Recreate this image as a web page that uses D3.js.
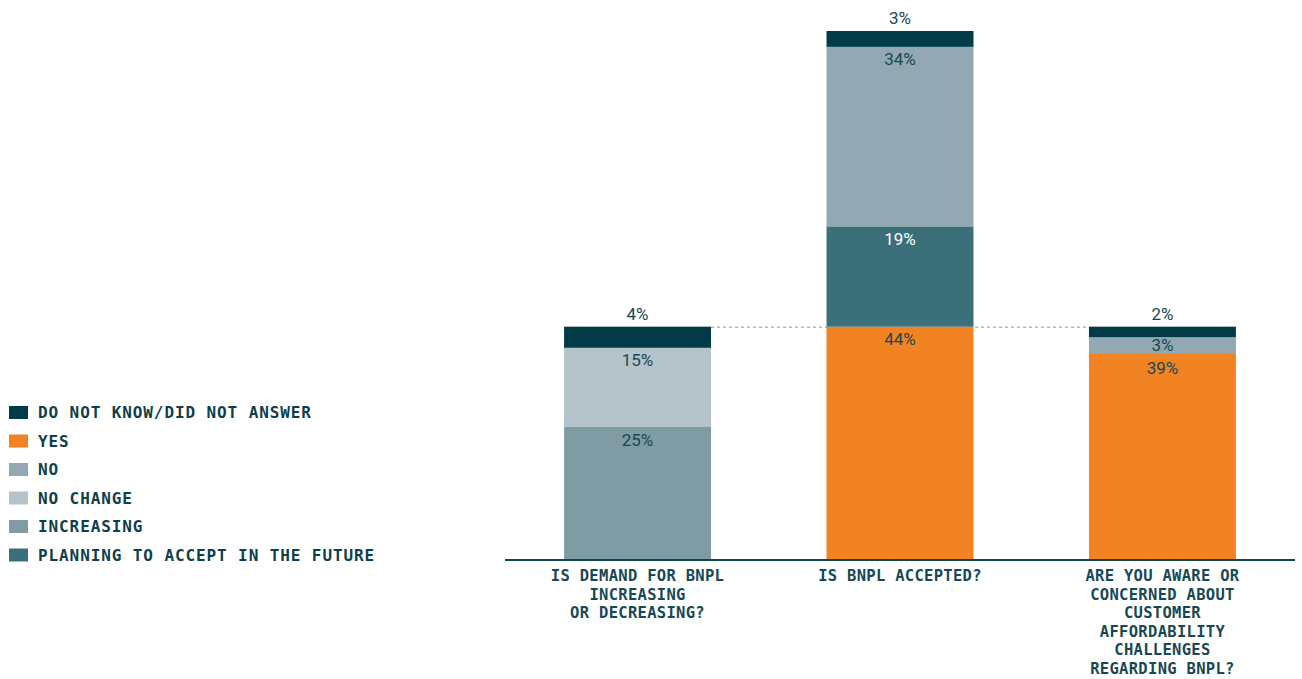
<!DOCTYPE html>
<html>
<head>
<meta charset="utf-8">
<script src="https://cdn.jsdelivr.net/npm/d3@7"></script>
<style>
  html, body { margin: 0; padding: 0; background: #ffffff; }
  svg { display: block; }
</style>
</head>
<body>
<svg id="chart" width="1302" height="679"></svg>
<script>
// Survey questions (x categories)
const questions = [
  ["IS DEMAND FOR BNPL", "INCREASING", "OR DECREASING?"],
  ["IS BNPL ACCEPTED?"],
  ["ARE YOU AWARE OR", "CONCERNED ABOUT", "CUSTOMER", "AFFORDABILITY", "CHALLENGES", "REGARDING BNPL?"]
];

// Answer series, stacked bottom to top
const seriesKeys = ["increasing", "noChange", "yes", "planning", "no", "dontKnow"];

// Values per question, in percent
const increasing = [25, 0, 0];
const noChange   = [15, 0, 0];
const yes        = [0, 44, 39];
const planning   = [0, 19, 0];
const no         = [0, 34, 3];
const dontKnow   = [4, 3, 2];

// Legend entries, top to bottom
const legendKeys   = ["dontKnow", "yes", "no", "noChange", "increasing", "planning"];
const legendLabels = ["DO NOT KNOW/DID NOT ANSWER", "YES", "NO", "NO CHANGE", "INCREASING", "PLANNING TO ACCEPT IN THE FUTURE"];

const colors = {
  dontKnow:   "#003b47",
  yes:        "#f28322",
  no:         "#93a8b2",
  noChange:   "#b5c3cb",
  increasing: "#7f9ba3",
  planning:   "#3b707b"
};
const labelColor = { planning: "#ffffff" };

const values = { increasing, noChange, yes, planning, no, dontKnow };
const rows = questions.map((q, i) => {
  const r = { idx: i };
  seriesKeys.forEach(k => r[k] = values[k][i]);
  return r;
});

const svg = d3.select("#chart");
const textDark = "#174854";

const x = d3.scaleBand()
  .domain(d3.range(questions.length))
  .range([505, 1295])
  .paddingInner(0.44)
  .paddingOuter(0.225);

const y = d3.scaleLinear().domain([0, 100]).range([559, 31]);

const stacked = d3.stack().keys(seriesKeys)(rows);

// Dotted reference line at the top of the first bar
const refTotal = d3.sum(seriesKeys, k => rows[0][k]);
svg.append("line")
  .attr("x1", x(0) + x.bandwidth())
  .attr("x2", x(2))
  .attr("y1", y(refTotal) + 0.5)
  .attr("y2", y(refTotal) + 0.5)
  .attr("stroke", "#7f99a2")
  .attr("stroke-width", 1)
  .attr("stroke-dasharray", "3,3");

// Bars
const layers = svg.append("g").selectAll("g")
  .data(stacked)
  .join("g")
  .attr("fill", d => colors[d.key]);

layers.selectAll("rect")
  .data(d => d.filter(s => s[1] - s[0] > 0))
  .join("rect")
  .attr("x", d => x(d.data.idx))
  .attr("width", x.bandwidth())
  .attr("y", d => y(d[1]))
  .attr("height", d => y(d[0]) - y(d[1]));

// Value labels: top segment labelled above the bar, the others just
// inside their segment's top edge, pushed down so they never collide.
const labels = [];
rows.forEach(r => {
  let prevBaseline = -Infinity;
  stacked.slice().reverse().forEach(layer => {
    const s = layer[r.idx];
    const v = s[1] - s[0];
    if (v <= 0) return;
    const top = y(s[1]), bottom = y(s[0]);
    let base;
    if (layer.key === "dontKnow") {
      base = top - 7;
    } else if (bottom - top < 20) {
      base = (top + bottom) / 2 + 6;
      prevBaseline = base;
    } else {
      base = Math.max(top + 18.5, prevBaseline + 23);
      prevBaseline = base;
    }
    labels.push({ key: layer.key, v, idx: r.idx, base });
  });
});

svg.append("g").selectAll("text")
  .data(labels)
  .join("text")
  .attr("x", d => x(d.idx) + x.bandwidth() / 2)
  .attr("y", d => d.base)
  .attr("text-anchor", "middle")
  .attr("font-family", "Roboto, 'Noto Sans', sans-serif")
  .attr("font-size", 17)
  .attr("fill", d => labelColor[d.key] || textDark)
  .text(d => d.v + "%");

// Axis baseline
const xAxis = d3.axisBottom(x).tickSize(0).tickFormat("");
const axisG = svg.append("g")
  .attr("transform", `translate(0,${y(0) + 1})`)
  .call(xAxis);
axisG.select(".domain")
  .attr("stroke", "#0f4450")
  .attr("stroke-width", 2)
  .attr("d", "M505,0H1295");

// Category labels
svg.append("g").selectAll("text")
  .data(questions)
  .join("text")
  .attr("x", (d, i) => x(i) + x.bandwidth() / 2)
  .attr("y", 581)
  .attr("text-anchor", "middle")
  .attr("font-family", "'DejaVu Sans Mono', 'Liberation Mono', monospace")
  .attr("font-weight", "bold")
  .attr("font-size", 15.5)
  .attr("letter-spacing", 0.3)
  .attr("fill", textDark)
  .each(function(lines) {
    d3.select(this).selectAll("tspan")
      .data(lines)
      .join("tspan")
      .attr("x", d3.select(this).attr("x"))
      .attr("dy", (l, j) => j === 0 ? 0 : 18.6)
      .text(l => l);
  });

// Legend
const legend = svg.append("g").selectAll("g")
  .data(legendKeys)
  .join("g")
  .attr("transform", (d, i) => `translate(9,${406 + i * 28.5})`);

legend.append("rect")
  .attr("width", 19)
  .attr("height", 13)
  .attr("fill", d => colors[d]);

legend.append("text")
  .attr("x", 29)
  .attr("y", 12)
  .attr("font-family", "'DejaVu Sans Mono', 'Liberation Mono', monospace")
  .attr("font-weight", "bold")
  .attr("font-size", 16)
  .attr("letter-spacing", 0.9)
  .attr("fill", "#0d404b")
  .text((d, i) => legendLabels[i]);
</script>
</body>
</html>
